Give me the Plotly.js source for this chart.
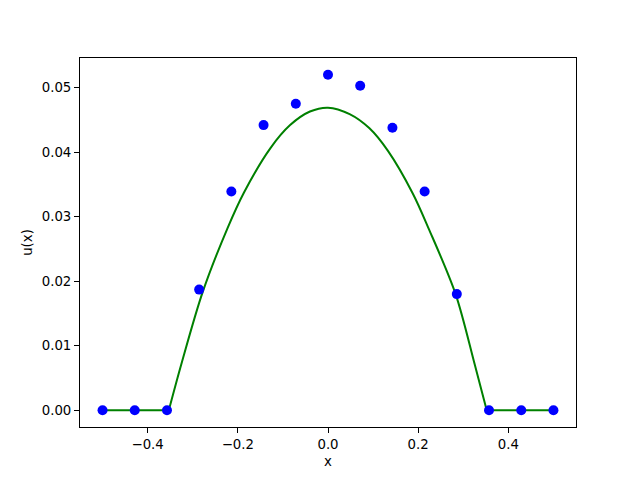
<!DOCTYPE html>
<html>
<head>
<meta charset="utf-8">
<script src="https://cdn.plot.ly/plotly-3.0.1.min.js"></script>
<style>html,body{margin:0;padding:0;background:#fff;}#plot{width:640px;height:480px;}</style>
</head>
<body>
<div id="plot"></div>
<script>
// Numerical solution (blue dots)
const pointsX = [-0.5, -0.4286, -0.3571, -0.2857, -0.2143, -0.1429, -0.0714, 0.0, 0.0714, 0.1429, 0.2143, 0.2857, 0.3571, 0.4286, 0.5];
const pointsU = [0.0, 0.0, 0.0, 0.0187, 0.0339, 0.0442, 0.0475, 0.0520, 0.0503, 0.0438, 0.0339, 0.0180, 0.0, 0.0, 0.0];

// Exact solution (green curve): flat parts and the hump
const flatLeftX = [-0.5, -0.353];
const flatLeftU = [0.0, 0.0];
const humpX = [-0.353, -0.325, -0.278, -0.223, -0.186, -0.128, -0.084, -0.040, 0.0, 0.048, 0.092, 0.133, 0.188, 0.223, 0.283, 0.325, 0.352];
const humpU = [0.0, 0.0072, 0.0183, 0.0282, 0.0338, 0.0406, 0.0442, 0.0463, 0.0469, 0.0459, 0.0437, 0.0402, 0.0336, 0.0282, 0.0180, 0.0072, 0.0];
const flatRightX = [0.352, 0.5];
const flatRightU = [0.0, 0.0];

const xTicks = [-0.4, -0.2, 0.0, 0.2, 0.4];
const yTicks = [0.0, 0.01, 0.02, 0.03, 0.04, 0.05];

const font = {family: 'DejaVu Sans', size: 13.3, color: '#000'};
const green = {color: '#008000', width: 2};

const traces = [
  {x: flatLeftX, y: flatLeftU, mode: 'lines', type: 'scatter', line: green, hoverinfo: 'none'},
  {x: humpX, y: humpU, mode: 'lines', type: 'scatter',
   line: Object.assign({shape: 'spline', smoothing: 0.9}, green), hoverinfo: 'none'},
  {x: flatRightX, y: flatRightU, mode: 'lines', type: 'scatter', line: green, hoverinfo: 'none'},
  {x: pointsX, y: pointsU, mode: 'markers', type: 'scatter',
   marker: {color: '#0000ff', size: 10, line: {width: 0}}, hoverinfo: 'none'}
];

const axisCommon = {
  showgrid: false, zeroline: false, showline: true, mirror: true,
  linecolor: '#000', linewidth: 1, ticks: 'outside', ticklen: 5,
  tickcolor: '#000', tickwidth: 1, tickfont: font, automargin: false
};

const layout = {
  width: 640, height: 480,
  margin: {l: 80, r: 64, t: 58, b: 53, pad: 0},
  paper_bgcolor: '#fff', plot_bgcolor: '#fff',
  showlegend: false,
  font: font,
  xaxis: Object.assign({}, axisCommon, {
    range: [-0.55, 0.55], tickmode: 'array', tickvals: xTicks,
    ticktext: xTicks.map(v => v.toFixed(1).replace('-', '\u2212')),
    title: {text: 'x', font: font, standoff: 5}
  }),
  yaxis: Object.assign({}, axisCommon, {
    range: [-0.0026, 0.0546], tickmode: 'array', tickvals: yTicks,
    ticktext: yTicks.map(v => v.toFixed(2)),
    title: {text: 'u(x)', font: font, standoff: 6}
  })
};

Plotly.newPlot('plot', traces, layout, {staticPlot: true, displayModeBar: false});
</script>
</body>
</html>
